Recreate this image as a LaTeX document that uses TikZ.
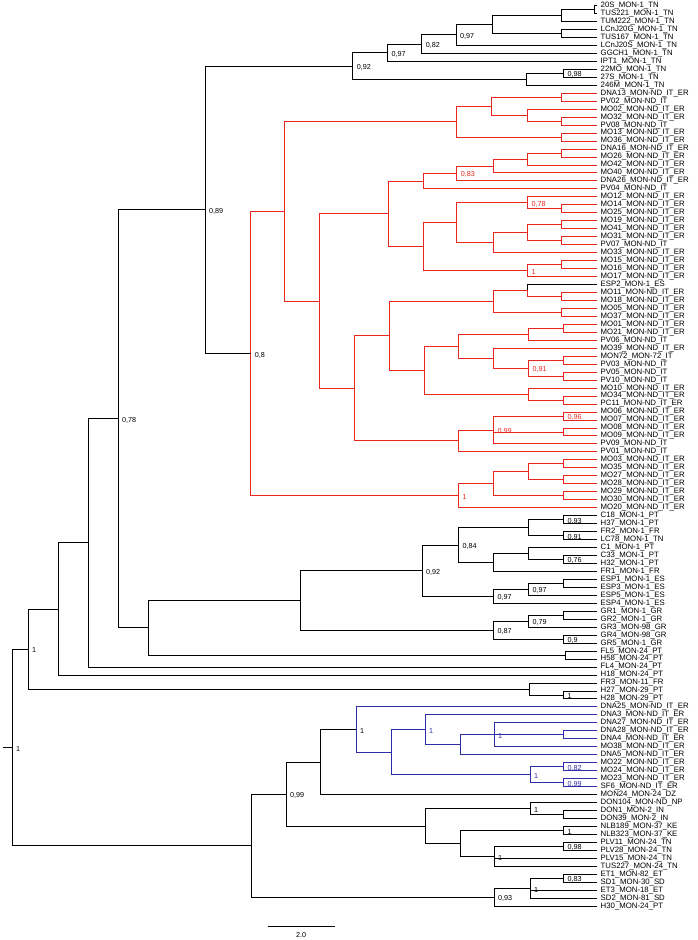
\documentclass[tikz,border=0pt]{standalone}
\usepackage{fontspec}
\setmainfont{Liberation Sans}
\usetikzlibrary{calc}
\definecolor{tred}{RGB}{232,38,30}
\definecolor{tblue}{RGB}{45,45,165}
\newcommand\tnode[4]{\path let \p1=(#3), \p2=(#4) in coordinate (#1) at (#2pt,{0.5*(\y1+\y2)});}
\newcommand\kids[2]{\foreach \c/\col in {#2}{\draw[tree,\col] (#1) |- (\c);}}
\newcommand\nlab[3][black]{\node[nl,text=#1] (#2-lab) at ([xshift=4pt,yshift=-1.5pt]#2) {#3};}
\begin{document}
\begin{tikzpicture}[x=1pt,y=-1pt,
  tree/.style={line width=0.8pt},
  leaf/.style={font=\fontsize{7.8}{8}\selectfont,inner sep=0pt,anchor=west},
  nl/.style={font=\fontsize{7.2}{8}\selectfont,inner sep=0pt,anchor=west}]
\useasboundingbox (0,0) rectangle (698,940);
\foreach \t [count=\i] in {20S\_MON-1\_TN, TUS221\_MON-1\_TN, TUM222\_MON-1\_TN, LCnJ20G\_MON-1\_TN, TUS167\_MON-1\_TN, LCnJ20S\_MON-1\_TN, GGCH1\_MON-1\_TN, IPT1\_MON-1\_TN, 22MO\_MON-1\_TN, 27S\_MON-1\_TN, 246M\_MON-1\_TN,
 DNA13\_MON-ND\_IT\_ER, PV02\_MON-ND\_IT, MO02\_MON-ND\_IT\_ER, MO32\_MON-ND\_IT\_ER, PV08\_MON-ND\_IT, MO13\_MON-ND\_IT\_ER, MO36\_MON-ND\_IT\_ER, DNA16\_MON-ND\_IT\_ER, MO26\_MON-ND\_IT\_ER, MO42\_MON-ND\_IT\_ER, MO40\_MON-ND\_IT\_ER, DNA26\_MON-ND\_IT\_ER, PV04\_MON-ND\_IT,
 MO12\_MON-ND\_IT\_ER, MO14\_MON-ND\_IT\_ER, MO25\_MON-ND\_IT\_ER, MO19\_MON-ND\_IT\_ER, MO41\_MON-ND\_IT\_ER, MO31\_MON-ND\_IT\_ER, PV07\_MON-ND\_IT, MO33\_MON-ND\_IT\_ER, MO15\_MON-ND\_IT\_ER, MO16\_MON-ND\_IT\_ER, MO17\_MON-ND\_IT\_ER, ESP2\_MON-1\_ES,
 MO11\_MON-ND\_IT\_ER, MO18\_MON-ND\_IT\_ER, MO05\_MON-ND\_IT\_ER, MO37\_MON-ND\_IT\_ER, MO01\_MON-ND\_IT\_ER, MO21\_MON-ND\_IT\_ER, PV06\_MON-ND\_IT, MO39\_MON-ND\_IT\_ER, MON72\_MON-72\_IT, PV03\_MON-ND\_IT, PV05\_MON-ND\_IT, PV10\_MON-ND\_IT,
 MO10\_MON-ND\_IT\_ER, MO34\_MON-ND\_IT\_ER, PC11\_MON-ND\_IT\_ER, MO06\_MON-ND\_IT\_ER, MO07\_MON-ND\_IT\_ER, MO08\_MON-ND\_IT\_ER, MO09\_MON-ND\_IT\_ER, PV09\_MON-ND\_IT, PV01\_MON-ND\_IT,
 MO03\_MON-ND\_IT\_ER, MO35\_MON-ND\_IT\_ER, MO27\_MON-ND\_IT\_ER, MO28\_MON-ND\_IT\_ER, MO29\_MON-ND\_IT\_ER, MO30\_MON-ND\_IT\_ER, MO20\_MON-ND\_IT\_ER,
 C18\_MON-1\_PT, H37\_MON-1\_PT, FR2\_MON-1\_FR, LC78\_MON-1\_TN, C1\_MON-1\_PT, C33\_MON-1\_PT, H32\_MON-1\_PT, FR1\_MON-1\_FR, ESP1\_MON-1\_ES, ESP3\_MON-1\_ES, ESP5\_MON-1\_ES, ESP4\_MON-1\_ES,
 GR1\_MON-1\_GR, GR2\_MON-1\_GR, GR3\_MON-98\_GR, GR4\_MON-98\_GR, GR5\_MON-1\_GR, FL5\_MON-24\_PT, H58\_MON-24\_PT, FL4\_MON-24\_PT, H18\_MON-24\_PT, FR3\_MON-11\_FR, H27\_MON-29\_PT, H28\_MON-29\_PT,
 DNA25\_MON-ND\_IT\_ER, DNA3\_MON-ND\_IT\_ER, DNA27\_MON-ND\_IT\_ER, DNA28\_MON-ND\_IT\_ER, DNA4\_MON-ND\_IT\_ER, MO38\_MON-ND\_IT\_ER, DNA5\_MON-ND\_IT\_ER, MO22\_MON-ND\_IT\_ER, MO24\_MON-ND\_IT\_ER, MO23\_MON-ND\_IT\_ER, SF6\_MON-ND\_IT\_ER,
 MON24\_MON-24\_DZ, DON104\_MON-ND\_NP, DON1\_MON-2\_IN, DON39\_MON-2\_IN, NLB189\_MON-37\_KE, NLB323\_MON-37\_KE, PLV11\_MON-24\_TN, PLV28\_MON-24\_TN, PLV15\_MON-24\_TN, TUS227\_MON-24\_TN,
 ET1\_MON-82\_ET, SD1\_MON-30\_SD, ET3\_MON-18\_ET, SD2\_MON-81\_SD, H30\_MON-24\_PT}
{\pgfmathsetmacro\yy{5.5+(\i-1)*7.97}
 \coordinate (l\i) at (597,\yy);
 \node[leaf] (L\i) at (600.5,\yy) {\t};}
% ---------- TN top clade
\tnode{t12}{594}{l1}{l2}\kids{t12}{l1/black,l2/black}
\tnode{tA}{561.7}{t12}{l3}\kids{tA}{t12/black,l3/black}
\tnode{t45}{561.7}{l4}{l5}\kids{t45}{l4/black,l5/black}
\tnode{tY}{492}{tA}{t45}\kids{tY}{tA/black,t45/black}
\tnode{t97b}{456}{tY}{l6}\kids{t97b}{tY/black,l6/black}\nlab{t97b}{0,97}
\tnode{t82}{421.7}{t97b}{l7}\kids{t82}{t97b/black,l7/black}\nlab{t82}{0,82}
\tnode{t97a}{387.3}{t82}{l8}\kids{t97a}{t82/black,l8/black}\nlab{t97a}{0,97}
\tnode{t910}{563.3}{l9}{l10}\kids{t910}{l9/black,l10/black}\nlab{t910}{0,98}
\tnode{tT3}{526}{t910}{l11}\kids{tT3}{t910/black,l11/black}
\tnode{t92}{352.7}{t97a}{tT3}\kids{t92}{t97a/black,tT3/black}\nlab{t92}{0,92}
% ---------- red clade, upper part
\tnode{r1213}{561.7}{l12}{l13}\kids{r1213}{l12/tred,l13/tred}
\tnode{r1516}{561.7}{l15}{l16}\kids{r1516}{l15/tred,l16/tred}
\tnode{r1416}{527.3}{l14}{r1516}\kids{r1416}{l14/tred,r1516/tred}
\tnode{rB}{491.7}{r1213}{r1416}\kids{rB}{r1213/tred,r1416/tred}
\tnode{r1718}{561.7}{l17}{l18}\kids{r1718}{l17/tred,l18/tred}
\tnode{ra}{456.7}{rB}{r1718}\kids{ra}{rB/tred,r1718/tred}
\tnode{r1920}{561.7}{l19}{l20}\kids{r1920}{l19/tred,l20/tred}
\tnode{r1921}{527.3}{r1920}{l21}\kids{r1921}{r1920/tred,l21/tred}
\tnode{r1922}{493.3}{r1921}{l22}\kids{r1922}{r1921/tred,l22/tred}
\tnode{r83}{456.7}{r1922}{l23}\kids{r83}{r1922/tred,l23/tred}\nlab[tred]{r83}{0,83}
\tnode{r1924}{423.3}{r83}{l24}\kids{r1924}{r83/tred,l24/tred}
\tnode{r2627}{561.7}{l26}{l27}\kids{r2627}{l26/tred,l27/tred}
\tnode{r78}{527.3}{l25}{r2627}\kids{r78}{l25/tred,r2627/tred}\nlab[tred]{r78}{0,78}
\tnode{r2829}{561.7}{l28}{l29}\kids{r2829}{l28/tred,l29/tred}
\tnode{r3031}{561.7}{l30}{l31}\kids{r3031}{l30/tred,l31/tred}
\tnode{r2831}{527.3}{r2829}{r3031}\kids{r2831}{r2829/tred,r3031/tred}
\tnode{r2832}{493.3}{r2831}{l32}\kids{r2832}{r2831/tred,l32/tred}
\tnode{r2532}{456.7}{r78}{r2832}\kids{r2532}{r78/tred,r2832/tred}
\tnode{r3334}{561.7}{l33}{l34}\kids{r3334}{l33/tred,l34/tred}
\tnode{r1s}{527.3}{r3334}{l35}\kids{r1s}{r3334/tred,l35/tred}\nlab[tred]{r1s}{1}
\tnode{r2535}{423.3}{r2532}{r1s}\kids{r2535}{r2532/tred,r1s/tred}
\tnode{r1935}{388.3}{r1924}{r2535}\kids{r1935}{r1924/tred,r2535/tred}
\tnode{r3738}{561.7}{l37}{l38}\kids{r3738}{l37/tred,l38/tred}
\tnode{r3638}{527.3}{l36}{r3738}\kids{r3638}{l36/black,r3738/tred}
\tnode{r3940}{561.7}{l39}{l40}\kids{r3940}{l39/tred,l40/tred}
\tnode{r3640}{493.3}{r3638}{r3940}\kids{r3640}{r3638/tred,r3940/tred}
\tnode{r4142}{563.3}{l41}{l42}\kids{r4142}{l41/tred,l42/tred}
\tnode{r4143}{528.3}{r4142}{l43}\kids{r4143}{r4142/tred,l43/tred}
\tnode{r4546}{563.3}{l45}{l46}\kids{r4546}{l45/tred,l46/tred}
\tnode{r4748}{563.3}{l47}{l48}\kids{r4748}{l47/tred,l48/tred}
\tnode{r91}{528.3}{r4546}{r4748}\kids{r91}{r4546/tred,r4748/tred}\nlab[tred]{r91}{0,91}
\tnode{r4448}{493.3}{l44}{r91}\kids{r4448}{l44/tred,r91/tred}
\tnode{r4148}{458.3}{r4143}{r4448}\kids{r4148}{r4143/tred,r4448/tred}
\tnode{r5051}{563.3}{l50}{l51}\kids{r5051}{l50/tred,l51/tred}
\tnode{r4951}{528.3}{l49}{r5051}\kids{r4951}{l49/tred,r5051/tred}
\tnode{r4151}{424}{r4148}{r4951}\kids{r4151}{r4148/tred,r4951/tred}
\tnode{r3651}{389}{r3640}{r4151}\kids{r3651}{r3640/tred,r4151/tred}
\tnode{r96}{563.3}{l52}{l53}\kids{r96}{l52/tred,l53/tred}\nlab[tred]{r96}{0,96}
\tnode{r5455}{563.3}{l54}{l55}\kids{r5455}{l54/tred,l55/tred}
\tnode{r99}{493.3}{r96}{l56}\kids{r99}{r96/tred,r5455/tred,l56/tred}\nlab[tred]{r99}{0,99}
\tnode{r5257}{458.3}{r99}{l57}\kids{r5257}{r99/tred,l57/tred}
\tnode{r3657}{354.3}{r3651}{r5257}\kids{r3657}{r3651/tred,r5257/tred}
\tnode{r1957}{319.3}{r1935}{r3657}\kids{r1957}{r1935/tred,r3657/tred}
\tnode{rTop}{284.3}{ra}{r1957}\kids{rTop}{ra/tred,r1957/tred}
% ---------- red clade, lower part
\tnode{r5859}{563.3}{l58}{l59}\kids{r5859}{l58/tred,l59/tred}
\tnode{r6061}{563.3}{l60}{l61}\kids{r6061}{l60/tred,l61/tred}
\tnode{r5861}{528.3}{r5859}{r6061}\kids{r5861}{r5859/tred,r6061/tred}
\tnode{r6263}{563.3}{l62}{l63}\kids{r6263}{l62/tred,l63/tred}
\tnode{r5863}{493.3}{r5861}{r6263}\kids{r5863}{r5861/tred,r6263/tred}
\tnode{rBot}{458.3}{r5863}{l64}\kids{rBot}{r5863/tred,l64/tred}\nlab[tred]{rBot}{1}
\tnode{n08}{250.7}{rTop}{rBot}\kids{n08}{rTop/tred,rBot/tred}\nlab{n08}{0,8}
% ---------- PT / FR / ES / GR
\tnode{p6566}{563.3}{l65}{l66}\kids{p6566}{l65/black,l66/black}\nlab{p6566}{0,93}
\tnode{p6768}{563.3}{l67}{l68}\kids{p6768}{l67/black,l68/black}\nlab{p6768}{0,91}
\tnode{p6568}{528.3}{p6566}{p6768}\kids{p6568}{p6566/black,p6768/black}
\tnode{p7071}{563.3}{l70}{l71}\kids{p7071}{l70/black,l71/black}\nlab{p7071}{0,76}
\tnode{p6971}{528.3}{l69}{p7071}\kids{p6971}{l69/black,p7071/black}
\tnode{p6972}{493.3}{p6971}{l72}\kids{p6972}{p6971/black,l72/black}
\tnode{p84}{458.3}{p6568}{p6972}\kids{p84}{p6568/black,p6972/black}\nlab{p84}{0,84}
\tnode{e7374}{563.3}{l73}{l74}\kids{e7374}{l73/black,l74/black}
\tnode{e97b}{528.3}{e7374}{l75}\kids{e97b}{e7374/black,l75/black}\nlab{e97b}{0,97}
\tnode{e97a}{493.3}{e97b}{l76}\kids{e97a}{e97b/black,l76/black}\nlab{e97a}{0,97}
\tnode{p92}{422}{p84}{e97a}\kids{p92}{p84/black,e97a/black}\nlab{p92}{0,92}
\tnode{g7778}{563.3}{l77}{l78}\kids{g7778}{l77/black,l78/black}
\tnode{g79}{528.3}{g7778}{l79}\kids{g79}{g7778/black,l79/black}\nlab{g79}{0,79}
\tnode{g8081}{563.3}{l80}{l81}\kids{g8081}{l80/black,l81/black}\nlab{g8081}{0,9}
\tnode{g87}{493.3}{g79}{g8081}\kids{g87}{g79/black,g8081/black}\nlab{g87}{0,87}
\tnode{f8283}{565}{l82}{l83}\kids{f8283}{l82/black,l83/black}
\tnode{h8788}{563.3}{l87}{l88}\kids{h8788}{l87/black,l88/black}\nlab{h8788}{1}
\tnode{h8688}{529.3}{l86}{h8788}\kids{h8688}{l86/black,h8788/black}
% ---------- backbone (upper)
\tnode{n89}{205}{t92}{n08}\kids{n89}{t92/black,n08/black}\nlab{n89}{0,89}
\tnode{pg}{300}{p92}{g87}\kids{pg}{p92/black,g87/black}
\tnode{n148}{148}{pg}{f8283}\kids{n148}{pg/black,f8283/black}
\tnode{n78}{118}{n89}{n148}\kids{n78}{n89/black,n148/black}\nlab{n78}{0,78}
\tnode{u2}{88}{n78}{l84}\kids{u2}{n78/black,l84/black}
\tnode{u1}{58}{u2}{l85}\kids{u1}{u2/black,l85/black}
\tnode{u0}{28}{u1}{h8688}\kids{u0}{u1/black,h8688/black}\nlab{u0}{1}
% ---------- blue clade and lower part
\tnode{b9293}{563.3}{l92}{l93}\kids{b9293}{l92/tblue,l93/tblue}
\tnode{b5}{494}{l91}{l94}\kids{b5}{l91/tblue,b9293/tblue,l94/tblue}\nlab[tblue]{b5}{1}
\tnode{b4}{460.7}{b5}{l95}\kids{b4}{b5/tblue,l95/tblue}
\tnode{b3}{425}{l90}{b4}\kids{b3}{l90/tblue,b4/tblue}\nlab[tblue]{b3}{1}
\tnode{m9697}{563.3}{l96}{l97}\kids{m9697}{l96/tblue,l97/tblue}\nlab[tblue]{m9697}{0,82}
\tnode{m9899}{563.3}{l98}{l99}\kids{m9899}{l98/tblue,l99/tblue}\nlab[tblue]{m9899}{0,99}
\tnode{m96}{530}{m9697}{m9899}\kids{m96}{m9697/tblue,m9899/tblue}\nlab[tblue]{m96}{1}
\tnode{b2}{391}{b3}{m96}\kids{b2}{b3/tblue,m96/tblue}
\tnode{b1}{356}{l89}{b2}\kids{b1}{l89/tblue,b2/tblue}\nlab{b1}{1}
\tnode{d3}{320.7}{b1}{l100}\kids{d3}{b1/black,l100/black}
\tnode{o102}{563.3}{l102}{l103}\kids{o102}{l102/black,l103/black}
\tnode{o101}{530}{l101}{o102}\kids{o101}{l101/black,o102/black}\nlab{o101}{1}
\tnode{k104}{563.3}{l104}{l105}\kids{k104}{l104/black,l105/black}\nlab{k104}{1}
\tnode{v106}{563.3}{l106}{l107}\kids{v106}{l106/black,l107/black}\nlab{v106}{0,98}
\tnode{v1}{494}{v106}{l109}\kids{v1}{v106/black,l108/black,l109/black}\nlab{v1}{1}
\tnode{k1}{460.7}{k104}{v1}\kids{k1}{k104/black,v1/black}
\tnode{d4}{425}{o101}{k1}\kids{d4}{o101/black,k1/black}
\tnode{d2}{286}{d3}{d4}\kids{d2}{d3/black,d4/black}\nlab{d2}{0,99}
\tnode{e110}{563.3}{l110}{l111}\kids{e110}{l110/black,l111/black}\nlab{e110}{0,83}
\tnode{e2}{530}{e110}{l113}\kids{e2}{e110/black,l112/black,l113/black}\nlab{e2}{1}
\tnode{e3}{494}{e2}{l114}\kids{e3}{e2/black,l114/black}\nlab{e3}{0,93}
\tnode{d1}{251.7}{d2}{e3}\kids{d1}{d2/black,e3/black}
% ---------- root
\tnode{root}{12}{u0}{d1}\kids{root}{u0/black,d1/black}\nlab{root}{1}
\path let \p1=(root) in coordinate (rs) at (3pt,\y1);
\draw[tree] (rs) -- (root);
% ---------- scale bar
\coordinate (sb1) at (268,926);
\coordinate (sb2) at (335,926);
\draw[tree] (sb1) -- (sb2);
\node[nl] (sbl) at (296,935) {2.0};
\end{tikzpicture}
\end{document}
